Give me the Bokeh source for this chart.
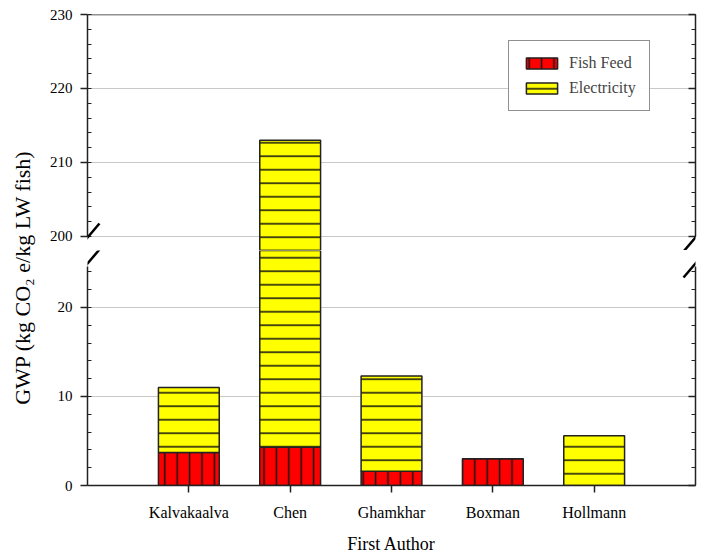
from math import pi
from bokeh.plotting import figure
from bokeh.layouts import row, column
from bokeh.models import (ColumnDataSource, Range1d, LinearAxis, FixedTicker, CDSView, IndexFilter,
                          SingleIntervalTicker, Span, Arrow, CustomJSTickFormatter,
                          Legend, LegendItem)
from bokeh.core.properties import value
from bokeh.embed import file_html
from bokeh.resources import INLINE

# ---------------- data ----------------
authors = ["Kalvakaalva", "Chen", "Ghamkhar", "Boxman", "Hollmann"]
fish_feed = [3.7, 4.3, 1.6, 3.0, 0.0]
electricity = [7.3, 208.7, 10.7, 0.0, 5.6]
series_names = ["Fish Feed", "Electricity"]
series_colors = ["#ff0000", "#ffff00"]
series_hatch = ["vertical_line", "horizontal_line"]
series_hatch_scale = [12.4, 13.5]
x_label = "First Author"
y_label = "GWP (kg CO\u2082 e/kg LW fish)"

# broken y axis: upper and lower segments
upper_view = (198.1, 230)
lower_view = (0, 26.4)
upper_axis = (200, 230)
lower_axis = (0, 24.6)
tick_interval = 10

FONT = "Liberation Serif"
LABEL_W = 46
MAIN_W = 652
FRAME_W = 610
UP_H, UP_FRAME = 250, 236
LO_H, LO_FRAME = 307, 235
TOTAL_H = UP_H + LO_H

positions = list(range(1, len(authors) + 1))
series = [fish_feed, electricity]
data = dict(pos=positions, author=authors)
bottoms, tops = [], []
acc = [0.0] * len(authors)
for i, s in enumerate(series):
    b = acc[:]
    acc = [a + v for a, v in zip(acc, s)]
    data[f"b{i}"] = b
    data[f"t{i}"] = acc[:]
    bottoms.append(b)
    tops.append(acc[:])
src = ColumnDataSource(data)
X_RANGE = (0, len(authors) + 1)
EDGE = "#222222"


def style_left(ax, bounds):
    ax.ticker = SingleIntervalTicker(interval=tick_interval, num_minor_ticks=5)
    ax.bounds = bounds
    ax.major_tick_out = 7
    ax.major_tick_in = 0
    ax.minor_tick_in = 4
    ax.minor_tick_out = 0
    ax.axis_line_width = 1.5
    ax.major_tick_line_width = 1.5
    ax.axis_line_color = EDGE
    ax.major_tick_line_color = EDGE
    ax.minor_tick_line_color = EDGE
    ax.major_label_text_font = FONT
    ax.major_label_text_font_size = "15px"
    ax.major_label_text_color = "black"
    ax.major_label_standoff = 8


def add_right(p, bounds):
    ax = LinearAxis(ticker=SingleIntervalTicker(interval=tick_interval, num_minor_ticks=5),
                    bounds=bounds, major_tick_in=7, major_tick_out=0,
                    minor_tick_in=4, minor_tick_out=0, axis_line_width=1.5,
                    major_tick_line_width=1.5, axis_line_color=EDGE,
                    major_tick_line_color=EDGE, minor_tick_line_color=EDGE,
                    formatter=CustomJSTickFormatter(code="return ''"),
                    major_label_standoff=0, major_label_text_font_size="1px")
    p.add_layout(ax, "right")


def bar_style(i):
    return dict(fill_color=series_colors[i], line_color=EDGE, line_width=1.5,
                hatch_pattern=series_hatch[i], hatch_color="#111111", hatch_weight=1.5,
                hatch_scale=series_hatch_scale[i])


def add_bars(p, view_range):
    for i in range(len(series)):
        idx = [k for k in range(len(authors))
               if tops[i][k] > view_range[0] and bottoms[i][k] < view_range[1]]
        p.vbar(x="pos", bottom=f"b{i}", top=f"t{i}", width=0.6, source=src,
               view=CDSView(filter=IndexFilter(idx)), **bar_style(i))


def add_breaks(p, center_y):
    for x0 in (0, FRAME_W):
        p.add_layout(Arrow(end=None, x_start=x0 - 12, y_start=center_y - 14,
                           x_end=x0 + 12, y_end=center_y + 14,
                           line_width=2.5, line_color="black",
                           x_range_name="px", y_range_name="px"))


def px_ranges(p, frame_h):
    p.extra_x_ranges = {"px": Range1d(0, FRAME_W)}
    p.extra_y_ranges = {"px": Range1d(0, frame_h)}


# ---------------- upper segment ----------------
up = figure(width=MAIN_W, height=UP_H, x_range=Range1d(*X_RANGE), y_range=Range1d(*upper_view),
            output_backend="svg", toolbar_location=None, x_axis_location=None,
            min_border_left=39, min_border_right=3, min_border_top=UP_H - UP_FRAME,
            min_border_bottom=0)
px_ranges(up, UP_FRAME)
up.outline_line_color = None
style_left(up.yaxis[0], upper_axis)
add_right(up, upper_axis)
add_bars(up, upper_view)
up.xgrid.visible = False
up.ygrid.grid_line_color = "#c8c8c8"
up.ygrid.grid_line_width = 1
up.add_layout(Span(location=upper_view[1], dimension="width", line_color=EDGE, line_width=1.5))
add_breaks(up, 13)

# legend-only (hidden) renderers carrying each series' style
legend_rends = []
for i in range(len(series)):
    r = up.vbar(x="pos", bottom=f"b{i}", top=f"t{i}", width=0.6, source=src, **bar_style(i))
    r.visible = False
    legend_rends.append(r)

lg = Legend(items=[LegendItem(label=n, renderers=[r]) for n, r in zip(series_names, legend_rends)],
            location=(421, 139), margin=0, padding=13, spacing=7,
            glyph_width=39, glyph_height=14, label_height=14, label_standoff=8,
            label_text_font=FONT, label_text_font_size="16px",
            border_line_color=EDGE, border_line_width=1.5, background_fill_color="white",
            inactive_fill_alpha=0.0)
up.add_layout(lg, "center")

# ---------------- lower segment ----------------
lo = figure(width=MAIN_W, height=LO_H, x_range=up.x_range, y_range=Range1d(*lower_view),
            output_backend="svg", toolbar_location=None,
            min_border_left=39, min_border_right=3, min_border_top=0,
            min_border_bottom=LO_H - LO_FRAME)
px_ranges(lo, LO_FRAME)
lo.outline_line_color = None
style_left(lo.yaxis[0], lower_axis)
add_right(lo, lower_axis)
add_bars(lo, lower_view)
lo.xgrid.visible = False
lo.ygrid.grid_line_color = "#c8c8c8"
lo.ygrid.grid_line_width = 1
xa = lo.xaxis[0]
xa.ticker = FixedTicker(ticks=positions, minor_ticks=[])
xa.major_label_overrides = {p: a for p, a in zip(positions, authors)}
xa.major_tick_out = 7
xa.major_tick_in = 0
xa.minor_tick_out = 0
xa.minor_tick_in = 0
xa.axis_line_width = 1.5
xa.major_tick_line_width = 1.5
xa.axis_line_color = EDGE
xa.major_tick_line_color = EDGE
xa.major_label_text_font = FONT
xa.major_label_text_font_size = "16px"
xa.major_label_text_color = "black"
xa.major_label_standoff = 11
xa.axis_label = x_label
xa.axis_label_text_font = FONT
xa.axis_label_text_font_size = "18px"
xa.axis_label_text_font_style = "normal"
xa.axis_label_text_color = "black"
xa.axis_label_standoff = 10
add_breaks(lo, 222)

# ---------------- y label column ----------------
yl = figure(width=LABEL_W, height=TOTAL_H, x_range=Range1d(0, LABEL_W),
            y_range=Range1d(0, TOTAL_H), output_backend="svg", toolbar_location=None,
            x_axis_location=None, y_axis_location=None, min_border=0)
yl.outline_line_color = None
yl.grid.visible = False
yl.text(x=[22], y=[TOTAL_H - 277], text=[y_label], angle=pi / 2,
        text_align="center", text_baseline="middle", text_font=value(FONT),
        text_font_size="22px", text_color="black")

layout = row(yl, column(up, lo))
open("out.html", "w").write(file_html(layout, INLINE))
